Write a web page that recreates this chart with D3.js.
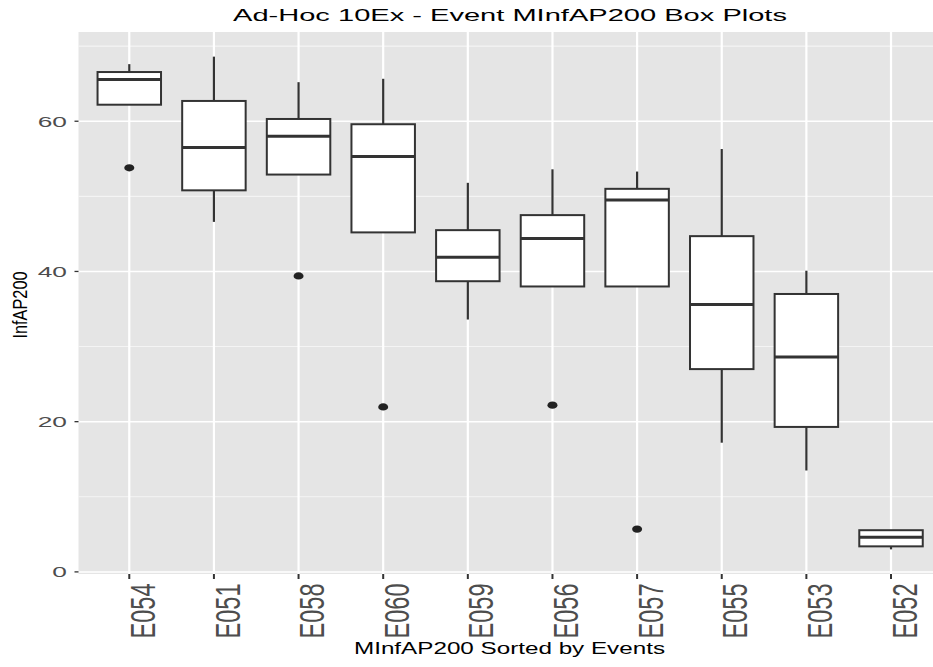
<!DOCTYPE html>
<html>
<head>
<meta charset="utf-8">
<script src="https://cdn.jsdelivr.net/npm/d3@7"></script>
<style>
  body { margin: 0; background: #fff; }
  text { font-family: "Liberation Sans", Arial, sans-serif; }
</style>
</head>
<body>
<div id="chart"></div>
<script>
// values
var events = ["E054", "E051", "E058", "E060", "E059", "E056", "E057", "E055", "E053", "E052"];
var lowerWhisker = [62.2, 46.6, 52.9, 45.2, 33.6, 38.0, 38.0, 17.2, 13.5, 3.0];
var q1 = [62.2, 50.8, 52.9, 45.2, 38.7, 38.0, 38.0, 27.0, 19.3, 3.4];
var medians = [65.55, 56.5, 58.0, 55.3, 41.9, 44.4, 49.5, 35.6, 28.6, 4.6];
var q3 = [66.55, 62.7, 60.3, 59.6, 45.5, 47.5, 51.0, 44.7, 37.0, 5.55];
var upperWhisker = [67.6, 68.6, 65.2, 65.65, 51.8, 53.6, 53.3, 56.3, 40.1, 5.55];
var outlierEvents = ["E054", "E058", "E060", "E056", "E057"];
var outlierValues = [53.8, 39.4, 21.96, 22.2, 5.7];
var yTicks = [0, 20, 40, 60];
var yMinorTicks = [10, 30, 50, 70];

var width = 933, height = 667;
var panel = { left: 78.5, right: 941.8, top: 32, bottom: 574 };

var svg = d3.select("#chart").append("svg")
    .attr("width", width)
    .attr("height", height);

var x = d3.scalePoint()
    .domain(events)
    .range([panel.left, panel.right])
    .padding(0.6);

var y = d3.scaleLinear()
    .domain([-0.28, 71.88])
    .range([panel.bottom, panel.top]);

var boxW = x.step() * 0.75;

var boxes = events.map(function (e, i) {
    return { ev: e, lo: lowerWhisker[i], q1: q1[i], med: medians[i], q3: q3[i], hi: upperWhisker[i] };
});

// panel background + grid
svg.append("rect")
    .attr("x", panel.left)
    .attr("y", panel.top)
    .attr("width", panel.right - panel.left)
    .attr("height", panel.bottom - panel.top)
    .style("fill", "#E5E5E5");

var grid = svg.append("g").attr("class", "grid");

grid.selectAll(".minor")
    .data(yMinorTicks)
    .enter().append("line")
    .attr("x1", panel.left).attr("x2", panel.right)
    .attr("y1", function (d) { return y(d); })
    .attr("y2", function (d) { return y(d); })
    .style("stroke", "#F4F4F4")
    .style("stroke-width", 1.1);

grid.selectAll(".major")
    .data(yTicks)
    .enter().append("line")
    .attr("x1", panel.left).attr("x2", panel.right)
    .attr("y1", function (d) { return y(d); })
    .attr("y2", function (d) { return y(d); })
    .style("stroke", "#fff")
    .style("stroke-width", 1.5);

grid.selectAll(".vmajor")
    .data(events)
    .enter().append("line")
    .attr("x1", function (d) { return x(d); })
    .attr("x2", function (d) { return x(d); })
    .attr("y1", panel.top).attr("y2", panel.bottom)
    .style("stroke", "#fff")
    .style("stroke-width", 2.2);

// boxes
var g = svg.append("g").attr("class", "boxes");

var box = g.selectAll(".box")
    .data(boxes)
    .enter().append("g")
    .attr("class", "box");

box.filter(function (d) { return d.hi > d.q3; })
    .append("line")
    .attr("x1", function (d) { return x(d.ev); })
    .attr("x2", function (d) { return x(d.ev); })
    .attr("y1", function (d) { return y(d.q3); })
    .attr("y2", function (d) { return y(d.hi); })
    .style("stroke", "#333")
    .style("stroke-width", 2.2);

box.filter(function (d) { return d.lo < d.q1; })
    .append("line")
    .attr("x1", function (d) { return x(d.ev); })
    .attr("x2", function (d) { return x(d.ev); })
    .attr("y1", function (d) { return y(d.q1); })
    .attr("y2", function (d) { return y(d.lo); })
    .style("stroke", "#333")
    .style("stroke-width", 2.2);

box.append("rect")
    .attr("x", function (d) { return x(d.ev) - boxW / 2; })
    .attr("y", function (d) { return y(d.q3); })
    .attr("width", boxW)
    .attr("height", function (d) { return y(d.q1) - y(d.q3); })
    .style("fill", "#fff")
    .style("stroke", "#333")
    .style("stroke-width", 2);

box.append("line")
    .attr("x1", function (d) { return x(d.ev) - boxW / 2; })
    .attr("x2", function (d) { return x(d.ev) + boxW / 2; })
    .attr("y1", function (d) { return y(d.med); })
    .attr("y2", function (d) { return y(d.med); })
    .style("stroke", "#333")
    .style("stroke-width", 3);

g.selectAll(".outlier")
    .data(outlierEvents)
    .enter().append("ellipse")
    .attr("class", "outlier")
    .attr("cx", function (d) { return x(d); })
    .attr("cy", function (d, i) { return y(outlierValues[i]); })
    .attr("rx", 5)
    .attr("ry", 3.6)
    .style("fill", "#222");

// y axis
var yAxis = svg.append("g").attr("class", "yaxis");

yAxis.selectAll(".tick")
    .data(yTicks)
    .enter().append("line")
    .attr("x1", panel.left - 4).attr("x2", panel.left)
    .attr("y1", function (d) { return y(d); })
    .attr("y2", function (d) { return y(d); })
    .style("stroke", "#333")
    .style("stroke-width", 1.3);

yAxis.selectAll(".label")
    .data(yTicks)
    .enter().append("text")
    .attr("transform", function (d) { return "translate(67," + (y(d) + 5.5) + ") scale(1.72,1)"; })
    .attr("text-anchor", "end")
    .style("font-size", "15.3px")
    .style("fill", "#4D4D4D")
    .text(function (d) { return d; });

// x axis
var xAxis = svg.append("g").attr("class", "xaxis");

xAxis.selectAll(".tick")
    .data(events)
    .enter().append("line")
    .attr("x1", function (d) { return x(d); })
    .attr("x2", function (d) { return x(d); })
    .attr("y1", panel.bottom).attr("y2", panel.bottom + 5)
    .style("stroke", "#333")
    .style("stroke-width", 2);

xAxis.selectAll(".label")
    .data(events)
    .enter().append("text")
    .attr("transform", function (d) { return "translate(" + (x(d) + 25.6) + ",583.5) rotate(-90)"; })
    .attr("text-anchor", "end")
    .attr("textLength", 55)
    .attr("lengthAdjust", "spacingAndGlyphs")
    .style("font-size", "35.5px")
    .style("fill", "#4D4D4D")
    .text(function (d) { return d; });

// titles
svg.append("text")
    .attr("x", 233)
    .attr("y", 21)
    .attr("textLength", 554)
    .attr("lengthAdjust", "spacingAndGlyphs")
    .style("font-size", "17px")
    .style("fill", "#000")
    .text("Ad-Hoc 10Ex - Event MInfAP200 Box Plots");

svg.append("text")
    .attr("x", 354)
    .attr("y", 653.5)
    .attr("textLength", 311)
    .attr("lengthAdjust", "spacingAndGlyphs")
    .style("font-size", "16px")
    .style("fill", "#000")
    .text("MInfAP200 Sorted by Events");

svg.append("text")
    .attr("transform", "translate(26.6,305) rotate(-90)")
    .attr("text-anchor", "middle")
    .attr("textLength", 67)
    .attr("lengthAdjust", "spacingAndGlyphs")
    .style("font-size", "20.5px")
    .style("fill", "#000")
    .text("InfAP200");
</script>
</body>
</html>
